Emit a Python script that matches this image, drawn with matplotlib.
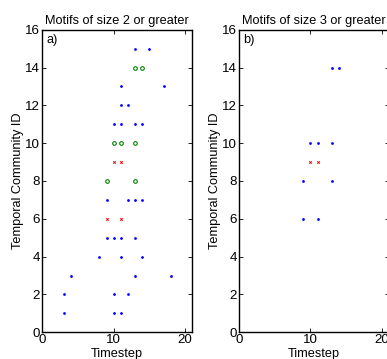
import matplotlib
matplotlib.use("Agg")
import matplotlib.pyplot as plt

# Panel a) motifs of size 2 or greater
a_blue_x = [13, 15, 11, 17, 11, 12, 10, 11, 13, 14, 9, 12, 13, 14, 9, 10, 11, 13, 8, 11, 14, 4, 13, 18, 3, 10, 12, 3, 10, 11]
a_blue_y = [15, 15, 13, 13, 12, 12, 11, 11, 11, 11, 7, 7, 7, 7, 5, 5, 5, 5, 4, 4, 4, 3, 3, 3, 2, 2, 2, 1, 1, 1]
a_green_x = [13, 14, 10, 11, 13, 9, 13]
a_green_y = [14, 14, 10, 10, 10, 8, 8]
a_red_x = [10, 11, 9, 11]
a_red_y = [9, 9, 6, 6]

# Panel b) motifs of size 3 or greater
b_blue_x = [13, 14, 10, 11, 13, 9, 13, 9, 11]
b_blue_y = [14, 14, 10, 10, 10, 8, 8, 6, 6]
b_red_x = [10, 11]
b_red_y = [9, 9]

titles = ["Motifs of size 2 or greater", "Motifs of size 3 or greater"]
panel_labels = ["a)", "b)"]
xticks = [0, 10, 20]
yticks = list(range(0, 17, 2))

plt.rcParams['font.family'] = ['Liberation Sans', 'DejaVu Sans']
fs = 9.2
tfs = 9.6

fig = plt.figure(figsize=(3.87, 3.59), dpi=100)
W, H = 387, 359
ax_w = 150 / W
ax_h = 302.6 / H
ax_b = (H - 332.3) / H
axes = [fig.add_axes([42.3 / W, ax_b, ax_w, ax_h]),
        fig.add_axes([239 / W, ax_b, ax_w, ax_h])]

def style(ax, title, label):
    ax.set_xlim(0, 21)
    ax.set_ylim(0, 16)
    ax.set_xticks(xticks)
    ax.set_yticks(yticks)
    ax.tick_params(direction='in', top=True, right=True, length=3, width=0.6,
                   labelsize=tfs, pad=1.5)
    for s in ax.spines.values():
        s.set_linewidth(1.0)
    ax.set_title(title, fontsize=fs, pad=4)
    ax.set_xlabel("Timestep", fontsize=fs, labelpad=1.5)
    ax.set_ylabel("Temporal Community ID", fontsize=fs, labelpad=1.0)
    ax.text(0.03, 0.985, label, transform=ax.transAxes, fontsize=fs,
            ha='left', va='top')

dot = dict(marker='o', linestyle='none', markersize=2.0, markeredgewidth=0)
xm = dict(marker='x', linestyle='none', markersize=1.8, color=(1, 0, 0),
          markeredgewidth=0.7)
ax = axes[0]
ax.plot(a_blue_x, a_blue_y, color=(0, 0, 1), **dot)
ax.plot(a_green_x, a_green_y, marker='o', linestyle='none', markersize=2.6,
        markerfacecolor='none', markeredgecolor=(0, 0.5, 0), markeredgewidth=0.8)
ax.plot(a_red_x, a_red_y, **xm)
style(ax, titles[0], panel_labels[0])

ax = axes[1]
ax.plot(b_blue_x, b_blue_y, color=(0, 0, 1), **dot)
ax.plot(b_red_x, b_red_y, **xm)
style(ax, titles[1], panel_labels[1])

fig.savefig("out.png", dpi=100)
